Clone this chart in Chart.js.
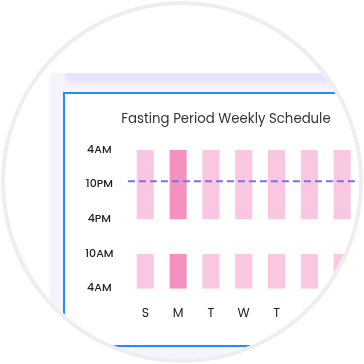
<!DOCTYPE html>
<html>
<head>
<meta charset="utf-8">
<script src="https://cdn.jsdelivr.net/npm/chart.js@4.4.1/dist/chart.umd.min.js"></script>
<style>
  html, body { margin: 0; padding: 0; background: #fff; }
  #stage { position: relative; width: 364px; height: 364px; overflow: hidden; }
  #circle {
    position: absolute; left: 1px; top: 1px; width: 362px; height: 362px;
    box-sizing: border-box; border: 4px solid #eeeeee; border-radius: 50%;
    overflow: hidden; background: #fff;
  }
  /* children below use page coordinates shifted by the 5px border offset */
  .panel { position: absolute; left: 45px; top: 68px; width: 400px; height: 400px; background: #f7f3fc; }
  .topbar {
    position: absolute; left: 60px; top: 68px; width: 400px; height: 8px;
    background: #e6e3fa; border-radius: 0 0 0 7px;
    box-shadow: 0 2px 4px rgba(200, 195, 235, 0.35);
  }
  .card {
    position: absolute; left: 58px; top: 87px; width: 400px; height: 251px;
    border: 2px solid #1f8ff5; background: #fff; box-sizing: content-box;
  }
  canvas { position: absolute; left: -5px; top: -5px; }
</style>
</head>
<body>
<div id="stage">
  <div id="circle">
    <div class="panel"></div>
    <div class="topbar"></div>
    <div class="card"></div>
    <canvas id="schedule" width="364" height="364"></canvas>
  </div>
</div>
<script>
// ------------------ Data ------------------
const days = ['S', 'M', 'T', 'W', 'T', 'F', 'S'];
const timeTicks = ['4AM', '10AM', '4PM', '10PM', '4AM']; // bottom to top
const eveningFrom = [2, 2, 2, 2, 2, 2, 2];   // 4PM
const eveningTo   = [4, 4, 4, 4, 4, 4, 4];   // 4AM
const morningFrom = [0, 0, 0, 0, 0, 0, 0];   // 4AM
const morningTo   = [1, 1, 1, 1, 1, 1, 1];   // 10AM
const highlightDay = 1;                      // Monday
const targetValue = 3.1;                     // dashed line, around 10PM
const titleText = 'Fasting Period Weekly Schedule';

const lightPink = '#f9c8e0';
const darkPink = '#f391c0';
const barColors = days.map((d, i) => i === highlightDay ? darkPink : lightPink);
const fontFamily = "'Poppins', 'Open Sans', sans-serif";

// dashed target line across the plot
const targetLinePlugin = {
    id: 'targetLine',
    afterDatasetsDraw(chart) {
        const {ctx, chartArea} = chart;
        const y = chart.scales.y.getPixelForValue(targetValue);
        ctx.save();
        ctx.strokeStyle = '#7a70ef';
        ctx.lineWidth = 2;
        ctx.setLineDash([7, 4]);
        ctx.beginPath();
        ctx.moveTo(chartArea.left - 1, y);
        ctx.lineTo(chartArea.right, y);
        ctx.stroke();
        ctx.restore();
    }
};

// title sits off-centre of the plot (card is wider than the visible circle)
const titlePlugin = {
    id: 'cardTitle',
    afterDraw(chart) {
        const ctx = chart.ctx;
        ctx.save();
        ctx.font = "13.3px " + fontFamily;
        ctx.fillStyle = '#333';
        ctx.textAlign = 'center';
        ctx.textBaseline = 'middle';
        ctx.fillText(titleText, 226, 120);
        ctx.restore();
    }
};

const barStyle = {
    backgroundColor: barColors,
    borderWidth: 0,
    barPercentage: 0.52,
    categoryPercentage: 1.0,
    grouped: false
};

new Chart(document.getElementById('schedule'), {
    type: 'bar',
    data: {
        labels: days,
        datasets: [
            Object.assign({ label: 'Evening', data: eveningFrom.map((v, i) => [v, eveningTo[i]]) }, barStyle),
            Object.assign({ label: 'Morning', data: morningFrom.map((v, i) => [v, morningTo[i]]) }, barStyle)
        ]
    },
    options: {
        responsive: false,
        animation: false,
        devicePixelRatio: 1,
        layout: { padding: { left: 70, right: 2.7, top: 150, bottom: 0 } },
        plugins: {
            legend: { display: false },
            tooltip: { enabled: false },
            title: { display: false }
        },
        scales: {
            x: {
                grid: { display: false, drawTicks: false },
                border: { display: false },
                ticks: {
                    color: '#222',
                    padding: 18,
                    font: { family: fontFamily, size: 12.5 }
                },
                afterFit(scale) { scale.height = 364 - 288.7; }
            },
            y: {
                min: 0,
                max: 4,
                grid: { display: false, drawTicks: false },
                border: { display: false },
                ticks: {
                    stepSize: 1,
                    color: '#222',
                    crossAlign: 'center',
                    padding: 15.4,
                    font: { family: fontFamily, size: 11, weight: 500 },
                    callback: (v) => timeTicks[v]
                },
                afterFit(scale) { scale.width = 58.9; }
            }
        }
    },
    plugins: [targetLinePlugin, titlePlugin]
});
</script>
</body>
</html>
